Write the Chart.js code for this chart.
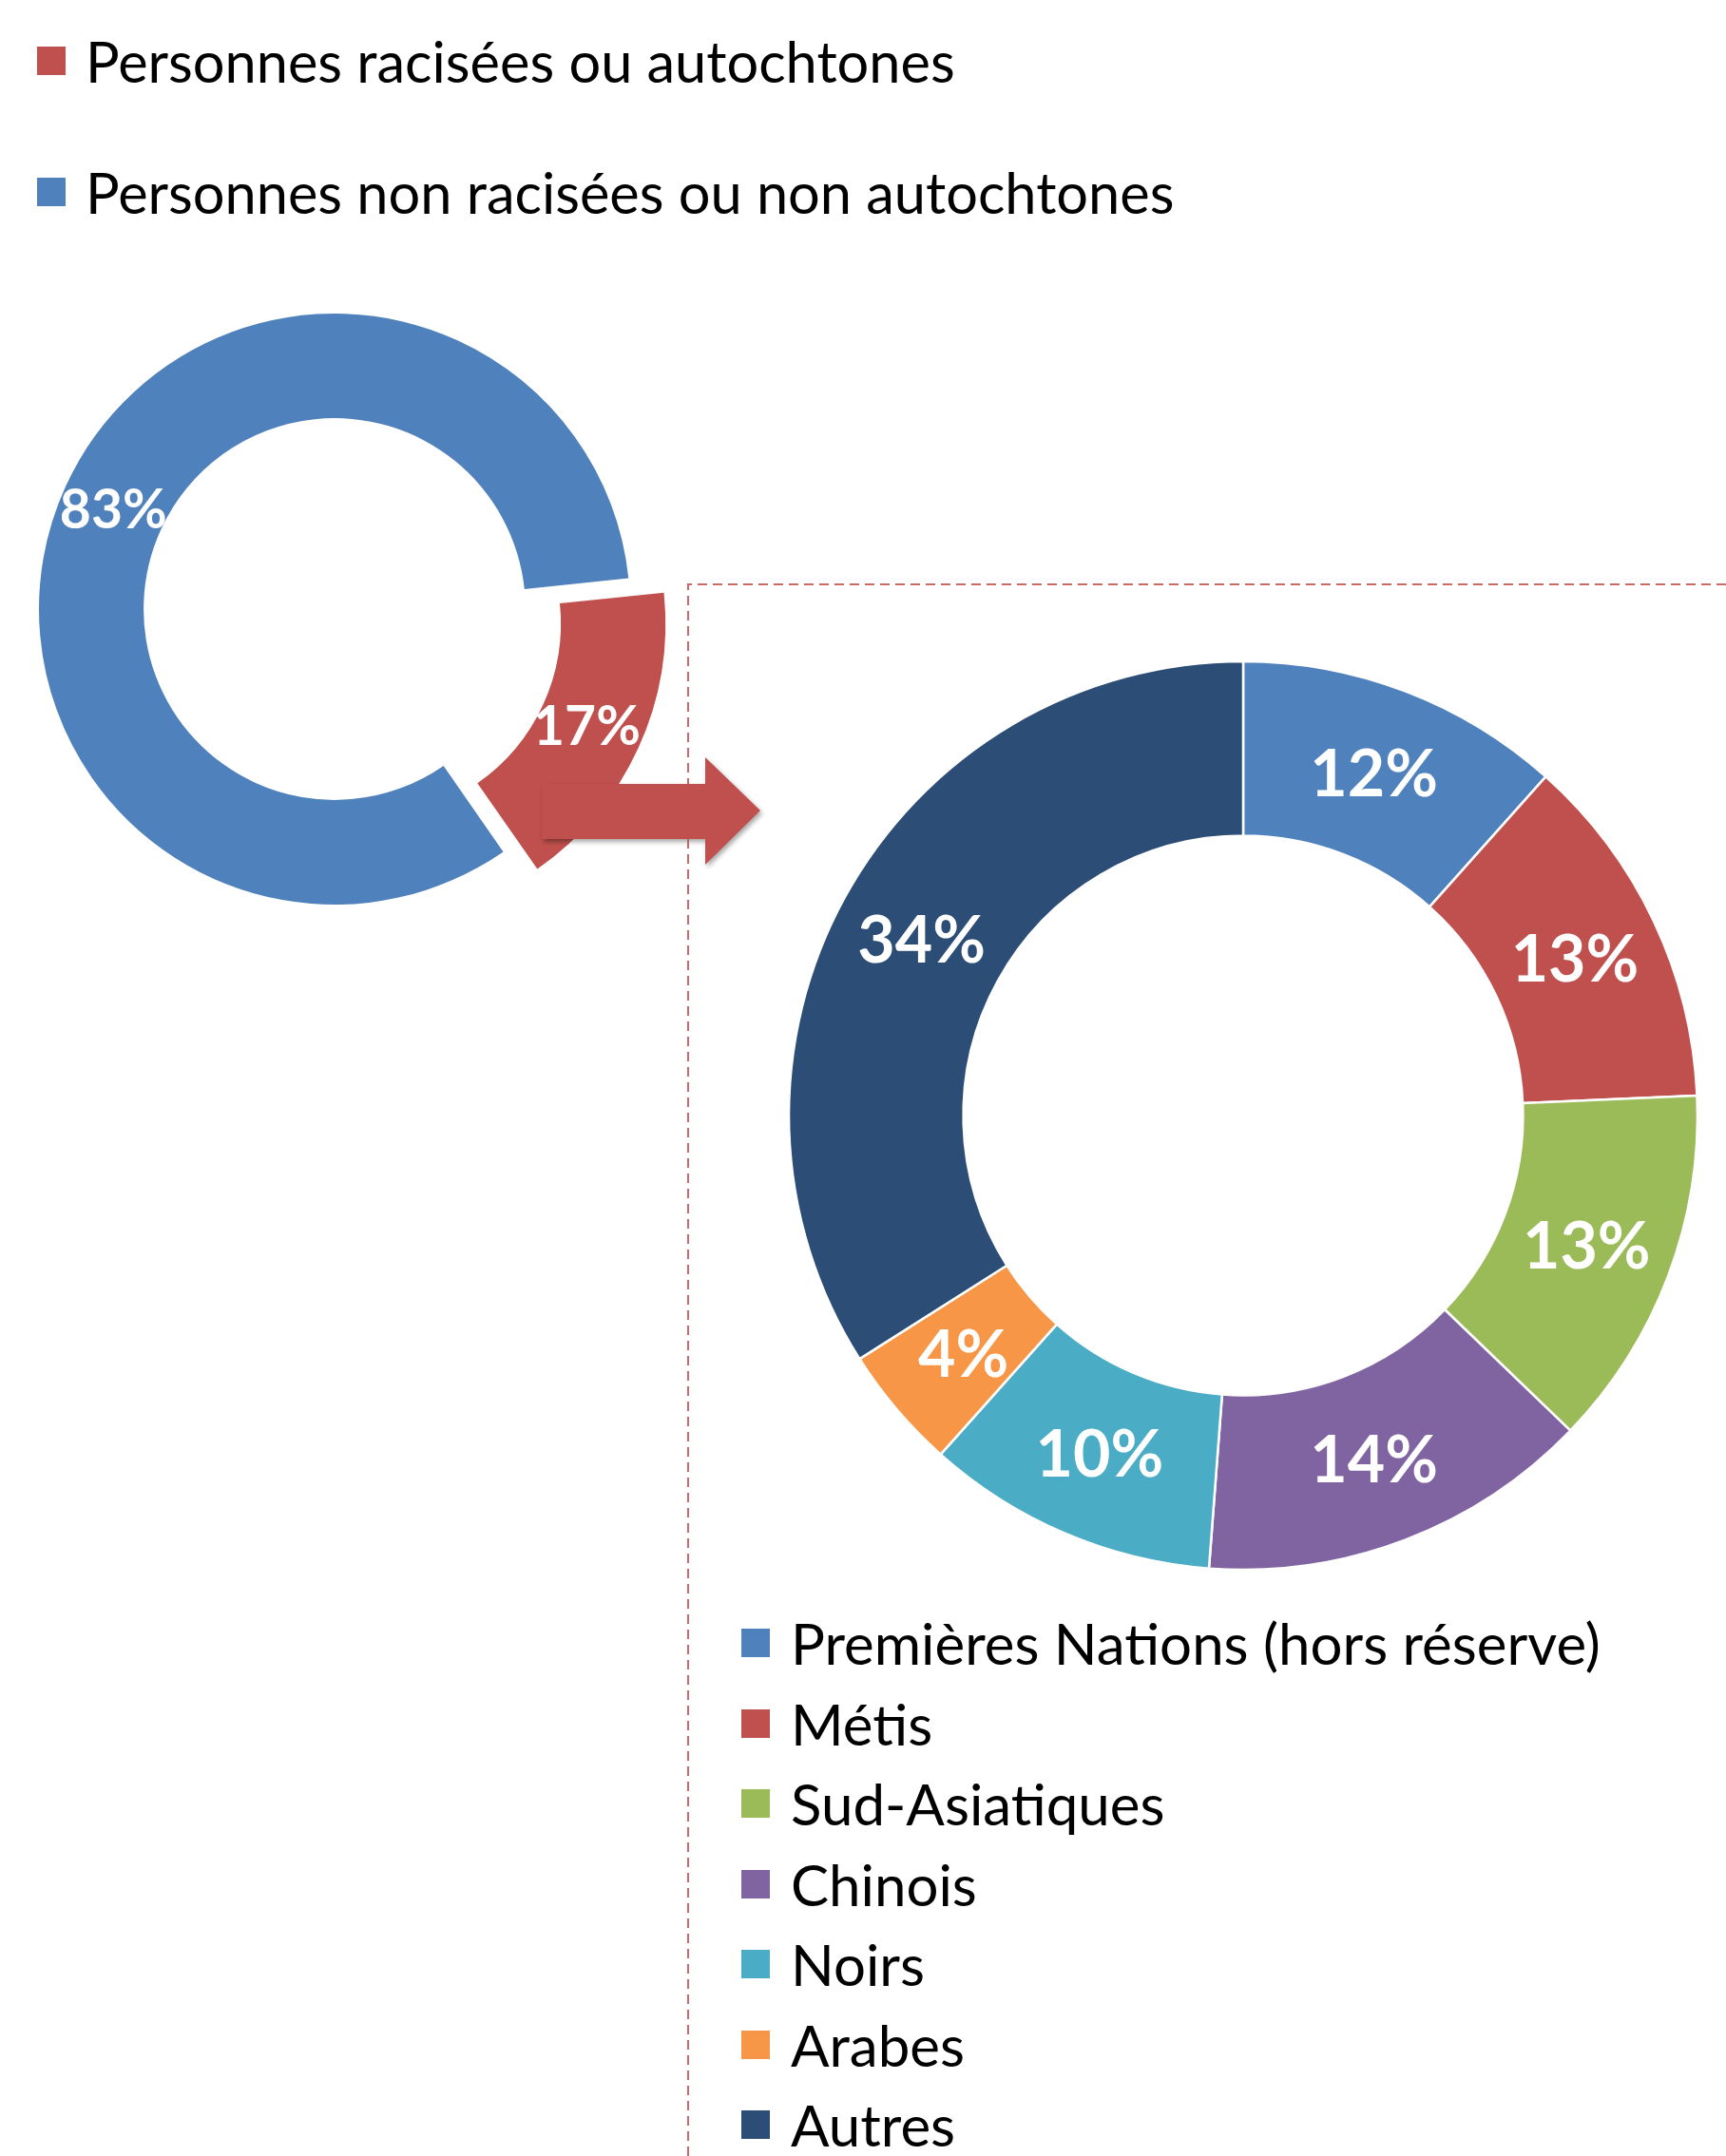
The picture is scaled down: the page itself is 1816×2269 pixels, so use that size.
<!DOCTYPE html>
<html><head><meta charset="utf-8">
<script src="https://cdn.jsdelivr.net/npm/chart.js@4/dist/chart.umd.min.js"></script>
<style>
html,body{margin:0;padding:0;background:#fff;}
body{width:1816px;height:2269px;position:relative;overflow:hidden;font-family:Lato, sans-serif;}
canvas{position:absolute;left:0;top:0;}
.leg{position:absolute;display:flex;align-items:center;height:60px;white-space:nowrap;color:#000;font-family:Lato, sans-serif;}
.leg i{display:inline-block;width:30px;height:30px;flex:none;}
</style></head><body>
<canvas id="c1" width="1816" height="2269"></canvas>
<canvas id="c2" width="1816" height="2269"></canvas>
<script>
const mainCategories = ['Personnes racisées ou autochtones', 'Personnes non racisées ou non autochtones'];
const mainValues = [17, 83];
const mainColors = ['#C0504D', '#4F81BD'];

const subCategories = ['Premières Nations (hors réserve)', 'Métis', 'Sud-Asiatiques', 'Chinois', 'Noirs', 'Arabes', 'Autres'];
const subValues = [11.6, 12.7, 12.9, 14.0, 10.4, 4.4, 34.0];
const subColors = ['#4F81BD', '#C0504D', '#9BBB59', '#8064A2', '#4BACC6', '#F79646', '#2C4D75'];

const pctLabels = {
  id: 'pctLabels',
  afterDatasetsDraw(chart, args, opts) {
    const ctx = chart.ctx;
    const meta = chart.getDatasetMeta(0);
    const data = chart.data.datasets[0].data;
    const total = data.reduce((a, b) => a + b, 0);
    ctx.save();
    ctx.font = 'bold ' + opts.size + 'px Lato, sans-serif';
    ctx.fillStyle = '#fff';
    ctx.textAlign = 'center';
    ctx.textBaseline = 'middle';
    meta.data.forEach((arc, i) => {
      const p = arc.getProps(['x', 'y', 'startAngle', 'endAngle', 'innerRadius', 'outerRadius'], true);
      const mid = (p.startAngle + p.endAngle) / 2;
      const off = (arc.options.offset || 0) / 4;
      const r = (p.innerRadius + p.outerRadius) / 2;
      const cx = p.x + Math.cos(mid) * off, cy = p.y + Math.sin(mid) * off;
      ctx.fillText(Math.round(data[i] / total * 100) + '%', cx + Math.cos(mid) * r, cy + Math.sin(mid) * r + 3);
    });
    ctx.restore();
  }
};

const arrowPlugin = {
  id: 'arrow',
  afterDatasetsDraw(chart) {
    const ctx = chart.ctx;
    ctx.save();
    ctx.fillStyle = '#C0504D';
    ctx.shadowColor = 'rgba(0,0,0,0.35)';
    ctx.shadowBlur = 5;
    ctx.shadowOffsetX = 2;
    ctx.shadowOffsetY = 3;
    ctx.beginPath();
    ctx.moveTo(570, 825);
    ctx.lineTo(742, 825);
    ctx.lineTo(742, 797);
    ctx.lineTo(800, 853);
    ctx.lineTo(742, 910);
    ctx.lineTo(742, 883);
    ctx.lineTo(570, 883);
    ctx.closePath();
    ctx.fill();
    ctx.restore();
  }
};

const dashBox = {
  id: 'dashBox',
  beforeDatasetsDraw(chart) {
    const ctx = chart.ctx;
    ctx.save();
    ctx.strokeStyle = 'rgba(192,80,77,0.85)';
    ctx.lineWidth = 2;
    ctx.setLineDash([10, 6]);
    ctx.beginPath();
    ctx.moveTo(1816, 615);
    ctx.lineTo(724, 615);
    ctx.lineTo(724, 2269);
    ctx.stroke();
    ctx.restore();
  }
};

new Chart(document.getElementById('c1'), {
  type: 'doughnut',
  data: {
    labels: mainCategories,
    datasets: [{ data: mainValues, backgroundColor: mainColors, borderWidth: 0, offset: [144, 0], clip: false }]
  },
  options: {
    responsive: false, animation: false, events: [],
    rotation: 84, radius: 311, cutout: '64.6%',
    layout: { padding: { left: 0, top: 0, right: 1112, bottom: 987 } },
    plugins: { legend: { display: false }, tooltip: { enabled: false }, pctLabels: { size: 57 } }
  },
  plugins: [arrowPlugin, pctLabels]
});

new Chart(document.getElementById('c2'), {
  type: 'doughnut',
  data: {
    labels: subCategories,
    datasets: [{ data: subValues, backgroundColor: subColors, borderColor: '#fff', borderWidth: 2.5, clip: false }]
  },
  options: {
    responsive: false, animation: false, events: [],
    rotation: 0, radius: 478, cutout: '61.6%',
    layout: { padding: { left: 800, top: 574, right: 0, bottom: 495 } },
    plugins: { legend: { display: false }, tooltip: { enabled: false }, pctLabels: { size: 68 } }
  },
  plugins: [dashBox, pctLabels]
});

function buildLegend(cats, colors, left, textLeft, top0, step, size) {
  cats.forEach((c, i) => {
    const d = document.createElement('div');
    d.className = 'leg';
    d.style.left = left + 'px';
    d.style.top = (top0 + i * step - 30) + 'px';
    d.style.fontSize = size + 'px';
    const sw = document.createElement('i');
    sw.style.background = colors[i];
    sw.style.marginRight = (textLeft - left - 30) + 'px';
    d.appendChild(sw);
    d.appendChild(document.createTextNode(c));
    document.body.appendChild(d);
  });
}
buildLegend(mainCategories, mainColors, 39, 90, 64, 138, 59.5);
buildLegend(subCategories, subColors, 780, 832, 1729, 84.5, 60);
</script>
</body></html>
